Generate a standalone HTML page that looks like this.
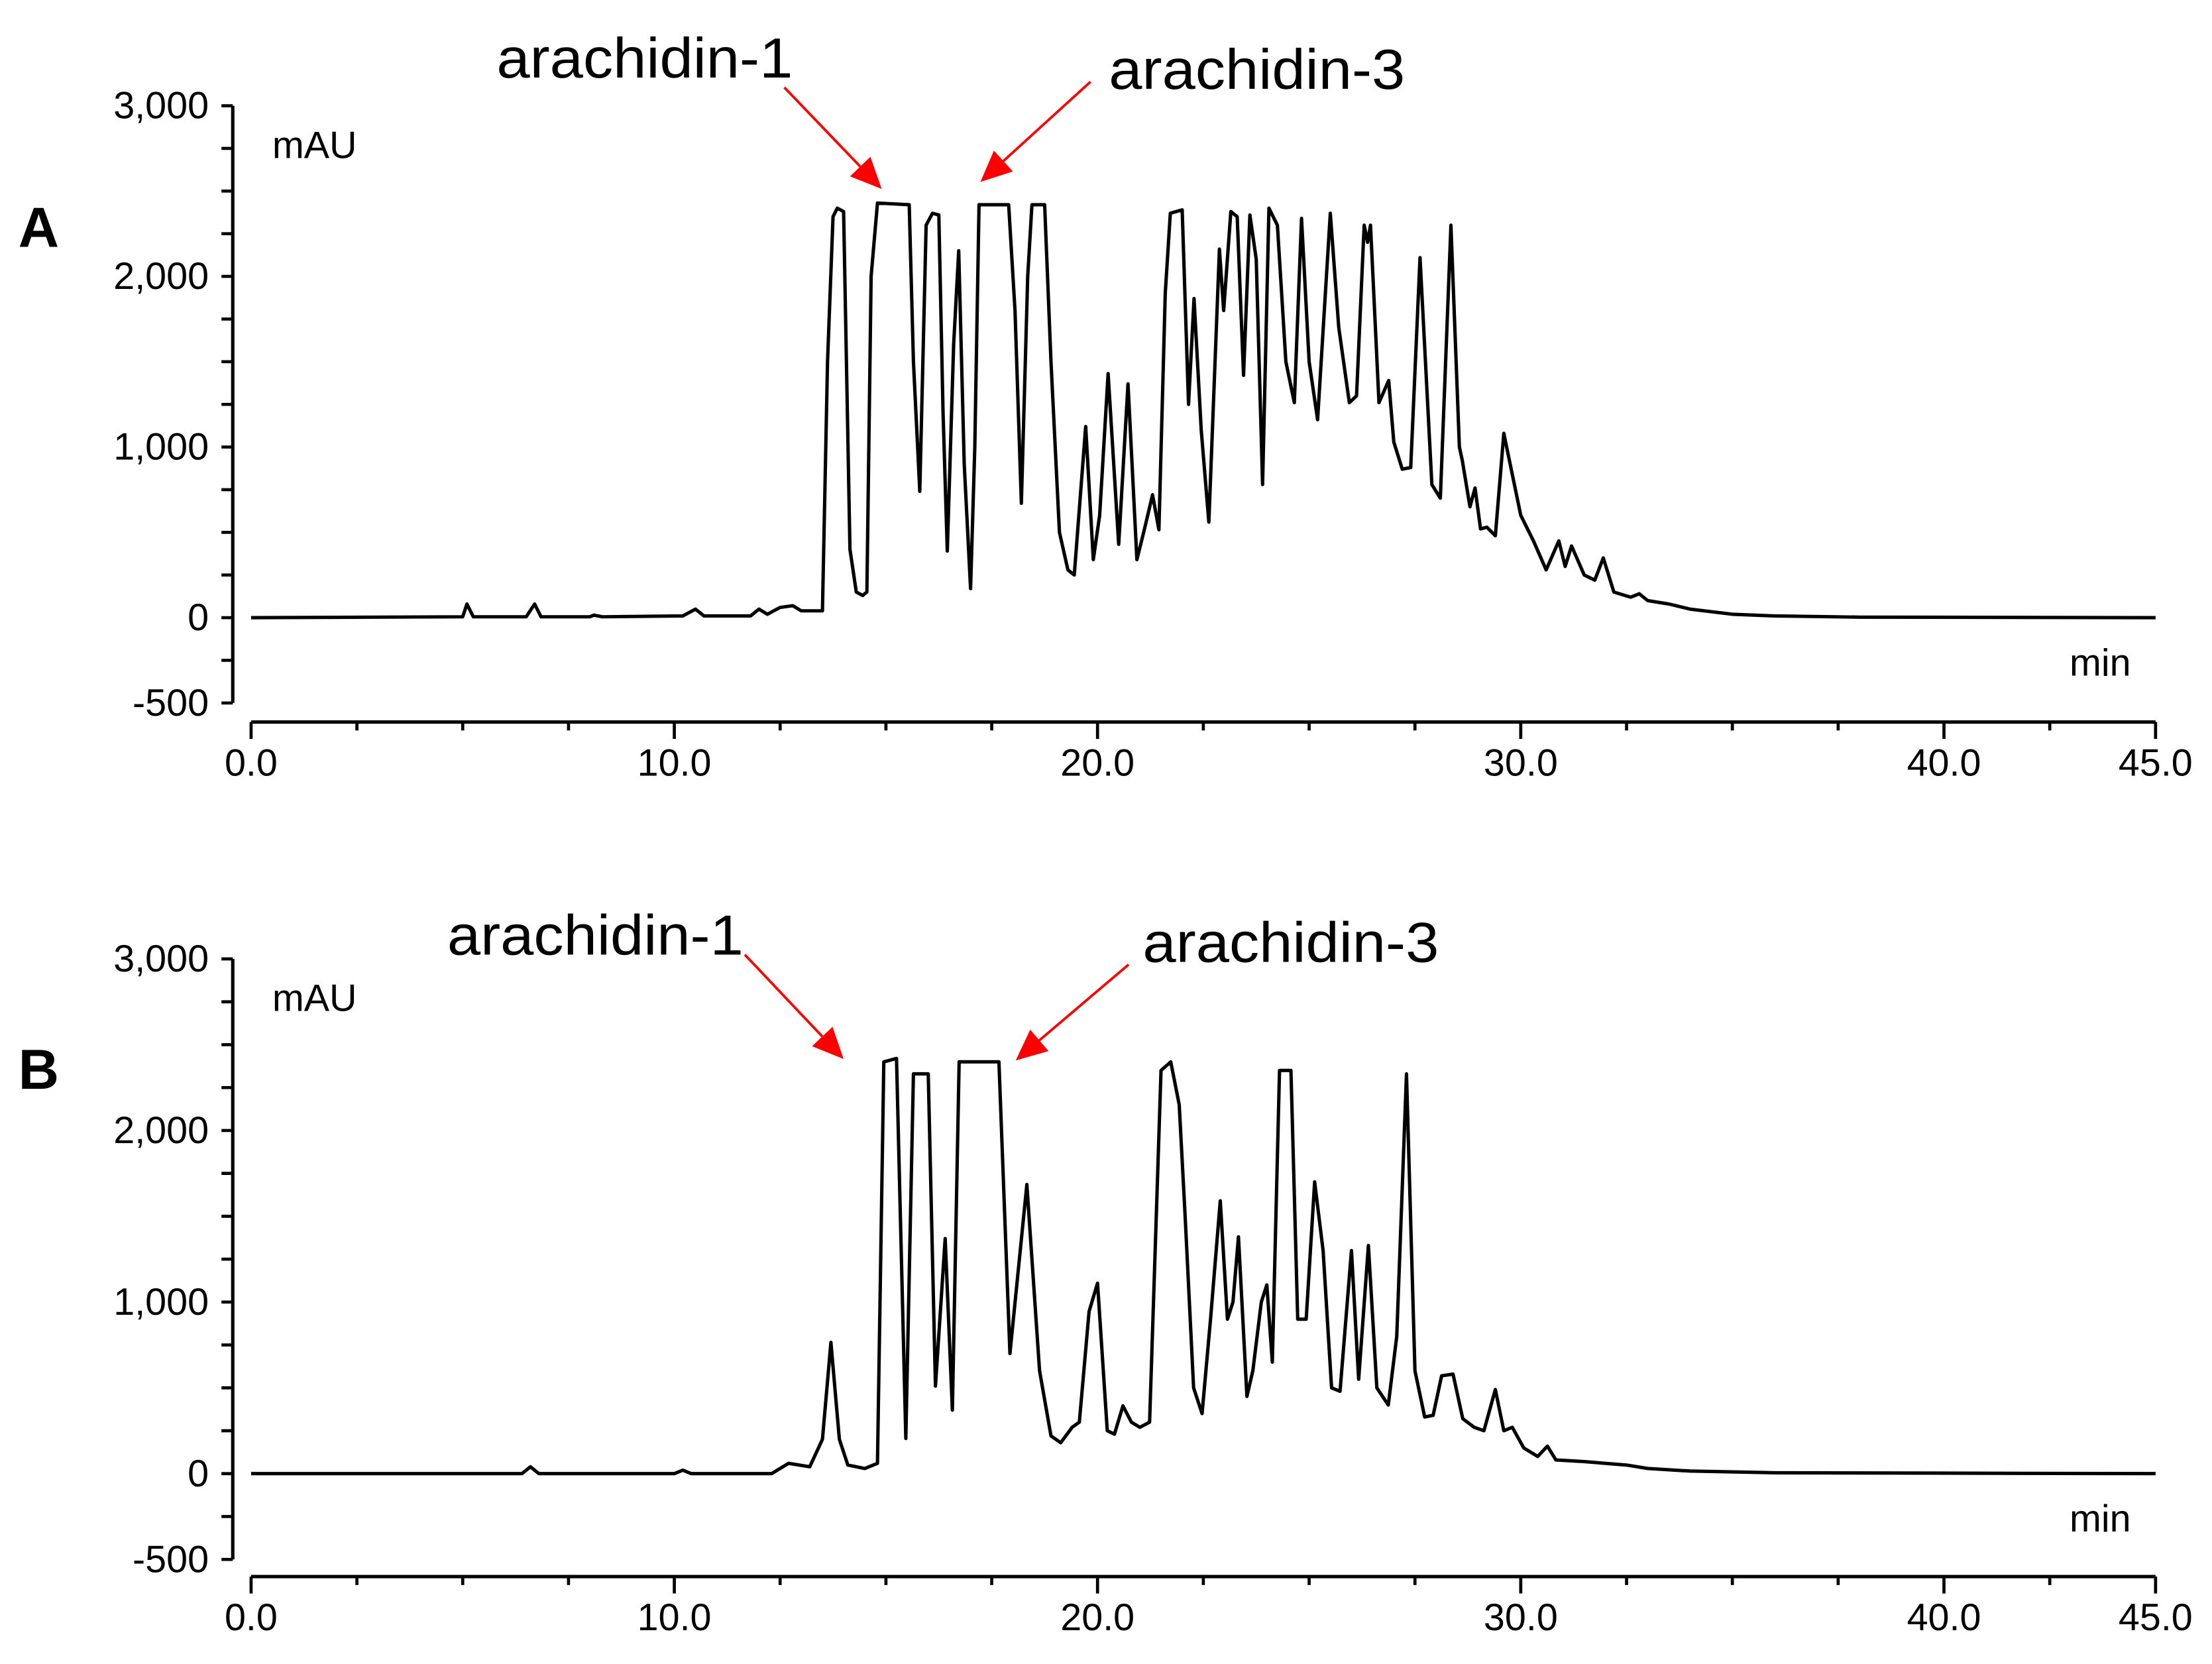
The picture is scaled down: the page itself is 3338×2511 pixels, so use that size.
<!DOCTYPE html>
<html><head><meta charset="utf-8"><style>
html,body{margin:0;padding:0;background:#fff;}
svg{display:block;}
text{font-family:"Liberation Sans",Arial,sans-serif;}
</style></head><body>
<svg id="chart" width="3338" height="2511" viewBox="0 0 1568 1180" preserveAspectRatio="none" xmlns="http://www.w3.org/2000/svg"></svg>
<script>
// Panel A data (time in min, absorbance in mAU)
const timesA = [0,5.0,5.1,5.25,6.5,6.7,6.85,8.0,8.1,8.3,10.2,10.5,10.7,11.8,12.0,12.2,12.5,12.8,13.0,13.5,13.62,13.75,13.85,14.0,14.15,14.3,14.45,14.55,14.65,14.8,15.55,15.65,15.8,15.95,16.1,16.25,16.35,16.45,16.6,16.72,16.85,17.0,17.1,17.2,17.9,18.05,18.2,18.35,18.45,18.75,18.9,19.1,19.3,19.45,19.72,19.9,20.05,20.25,20.5,20.72,20.93,21.1,21.3,21.45,21.6,21.72,22.0,22.15,22.28,22.45,22.63,22.88,22.98,23.15,23.3,23.45,23.6,23.75,23.9,24.05,24.25,24.45,24.65,24.82,25.0,25.2,25.5,25.7,25.95,26.12,26.3,26.38,26.45,26.65,26.88,27.0,27.2,27.4,27.62,27.9,28.1,28.35,28.55,28.62,28.8,28.92,29.05,29.2,29.4,29.6,30.0,30.3,30.6,30.9,31.05,31.2,31.5,31.75,31.95,32.2,32.6,32.8,33.0,33.5,34.0,35.0,36.0,38.0,45.0];
const valuesA = [0,5,80,5,5,80,5,5,15,5,10,50,10,10,50,20,60,70,40,40,1500,2350,2400,2380,400,150,130,150,2000,2430,2420,1500,740,2300,2370,2360,1200,390,1600,2150,900,170,1000,2420,2420,1800,670,2000,2420,2420,1500,500,280,250,1120,340,600,1430,430,1370,340,510,720,515,1900,2370,2390,1250,1870,1100,560,2160,1800,2380,2350,1420,2360,2100,780,2400,2300,1500,1260,2340,1500,1160,2370,1700,1260,1300,2300,2200,2300,1260,1390,1030,870,880,2110,780,700,2300,1000,920,650,760,520,530,480,1080,600,450,280,450,300,420,250,220,350,150,120,140,100,80,50,20,10,3,0];
// Panel B data
const timesB = [0,6.4,6.6,6.8,10.0,10.2,10.4,12.3,12.5,12.7,13.2,13.5,13.7,13.9,14.1,14.5,14.8,14.95,15.25,15.47,15.65,16.0,16.17,16.4,16.57,16.73,17.67,17.93,18.33,18.63,18.9,19.13,19.4,19.57,19.8,20.0,20.23,20.4,20.6,20.8,21.0,21.23,21.5,21.73,21.93,22.07,22.27,22.47,22.67,22.9,23.07,23.2,23.33,23.53,23.67,23.87,24.0,24.13,24.3,24.57,24.73,24.93,25.13,25.33,25.53,25.73,26.0,26.17,26.4,26.6,26.87,27.07,27.3,27.5,27.73,27.93,28.13,28.4,28.63,28.9,29.13,29.4,29.6,29.8,30.07,30.4,30.63,30.83,31.5,32.5,33.0,34.0,36.0,45.0];
const valuesB = [0,0,40,0,0,20,0,0,30,60,40,200,765,200,50,30,60,2400,2420,205,2330,2330,510,1370,370,2400,2400,700,1685,600,220,180,270,300,945,1110,250,230,395,300,270,300,2350,2400,2150,1500,500,350,900,1590,900,1000,1380,450,600,1000,1100,650,2350,2350,900,900,1700,1300,500,480,1300,550,1330,500,400,800,2330,600,330,340,570,580,320,270,250,490,250,270,150,100,160,80,70,50,30,15,5,0];
const xTickLabels = ["0.0","10.0","20.0","30.0","40.0","45.0"];
const xTickValues = [0,10,20,30,40,45];
const yTickLabels = ["3,000","2,000","1,000","0","-500"];
const yTickValues = [3000,2000,1000,0,-500];

const NS = "http://www.w3.org/2000/svg";
const svg = document.getElementById("chart");
function mk(tag, attrs, parent){const e=document.createElementNS(NS,tag);for(const k in attrs)e.setAttribute(k,attrs[k]);(parent||svg).appendChild(e);return e;}

function drawPanel(cfg, times, values){
  const g = mk("g",{});
  
  
  const x = t => 178 + (t/45)*(1528-178);
  const y = v => cfg.zeroY - v*(cfg.zeroY-cfg.topY)/3000;
  const ya = mk("line",{x1:165,y1:y(3000),x2:165,y2:y(-500),stroke:"#000","stroke-width":2.4},g);
  
  
  for(let v=-500; v<=3000; v+=250){
    mk("line",{x1:157,y1:y(v),x2:165,y2:y(v),stroke:"#000","stroke-width":2.2},g);
  }
  yTickLabels.forEach((lab,i)=>{
    const t = mk("text",{x:148,y:y(yTickValues[i])+9,"text-anchor":"end","font-size":27,fill:"#000"},g);
    t.textContent = lab;
    
    
  });
  const xa = mk("line",{x1:x(0),y1:cfg.axisY,x2:x(45),y2:cfg.axisY,stroke:"#000","stroke-width":2.4},g);
  
  
  for(let t=0; t<=45; t+=2.5){
    const major = xTickValues.includes(t);
    mk("line",{x1:x(t),y1:cfg.axisY,x2:x(t),y2:cfg.axisY+(major?12:6),stroke:"#000","stroke-width":2.2},g);
  }
  xTickLabels.forEach((lab,i)=>{
    const t = mk("text",{x:x(xTickValues[i]),y:cfg.axisY+38,"text-anchor":"middle","font-size":27,fill:"#000"},g);
    t.textContent = lab;
    
    
  });
  const mau = mk("text",{x:193,y:y(3000)+37,"font-size":27,fill:"#000"},g);
  mau.textContent="mAU";
  
  
  const mn = mk("text",{x:1467,y:y(0)+41,"font-size":27,fill:"#000"},g);
  mn.textContent="min";
  
  
  const pl = mk("text",{x:13,y:cfg.letterY,"font-size":40,"font-weight":"bold",fill:"#000"},g);
  pl.textContent=cfg.letter;
  
  
  const d = times.map((t,i)=>(i?"L":"M")+x(t).toFixed(2)+","+y(values[i]).toFixed(2)).join(" ");
  const p = mk("path",{d:d,fill:"none",stroke:"#000","stroke-width":2.4,"stroke-linejoin":"round"},g);
  
  
  cfg.ann.forEach(a=>{
    const t = mk("text",{x:a.tx,y:a.ty,"font-size":40,fill:"#000",textLength:210,lengthAdjust:"spacingAndGlyphs"},g);
    t.textContent=a.label;
    
    
    const dx=a.x2-a.x1, dy=a.y2-a.y1, L=Math.hypot(dx,dy), ux=dx/L, uy=dy/L;
    const bx=a.x2-ux*22, by=a.y2-uy*22;
    mk("line",{x1:a.x1,y1:a.y1,x2:bx,y2:by,stroke:"#ff0000","stroke-width":1.8},g);
    const ar = mk("polygon",{points:`${a.x2},${a.y2} ${bx-uy*10},${by+ux*10} ${bx+uy*10},${by-ux*10}`,fill:"#ff0000"},g);
    
    
  });
}
drawPanel({name:"panel-a",letter:"A",letterY:175,zeroY:438,topY:75,axisY:512,
  ann:[{label:"arachidin-1",tx:352,ty:55,x1:556,y1:62,x2:625,y2:134},
       {label:"arachidin-3",tx:786,ty:63,x1:773,y1:58,x2:695,y2:129}]}, timesA, valuesA);
drawPanel({name:"panel-b",letter:"B",letterY:772,zeroY:1045,topY:680,axisY:1118,
  ann:[{label:"arachidin-1",tx:317,ty:677,x1:528,y1:677,x2:598,y2:751},
       {label:"arachidin-3",tx:810,ty:682,x1:800,y1:684,x2:720,y2:752}]}, timesB, valuesB);
</script>
</body></html>
